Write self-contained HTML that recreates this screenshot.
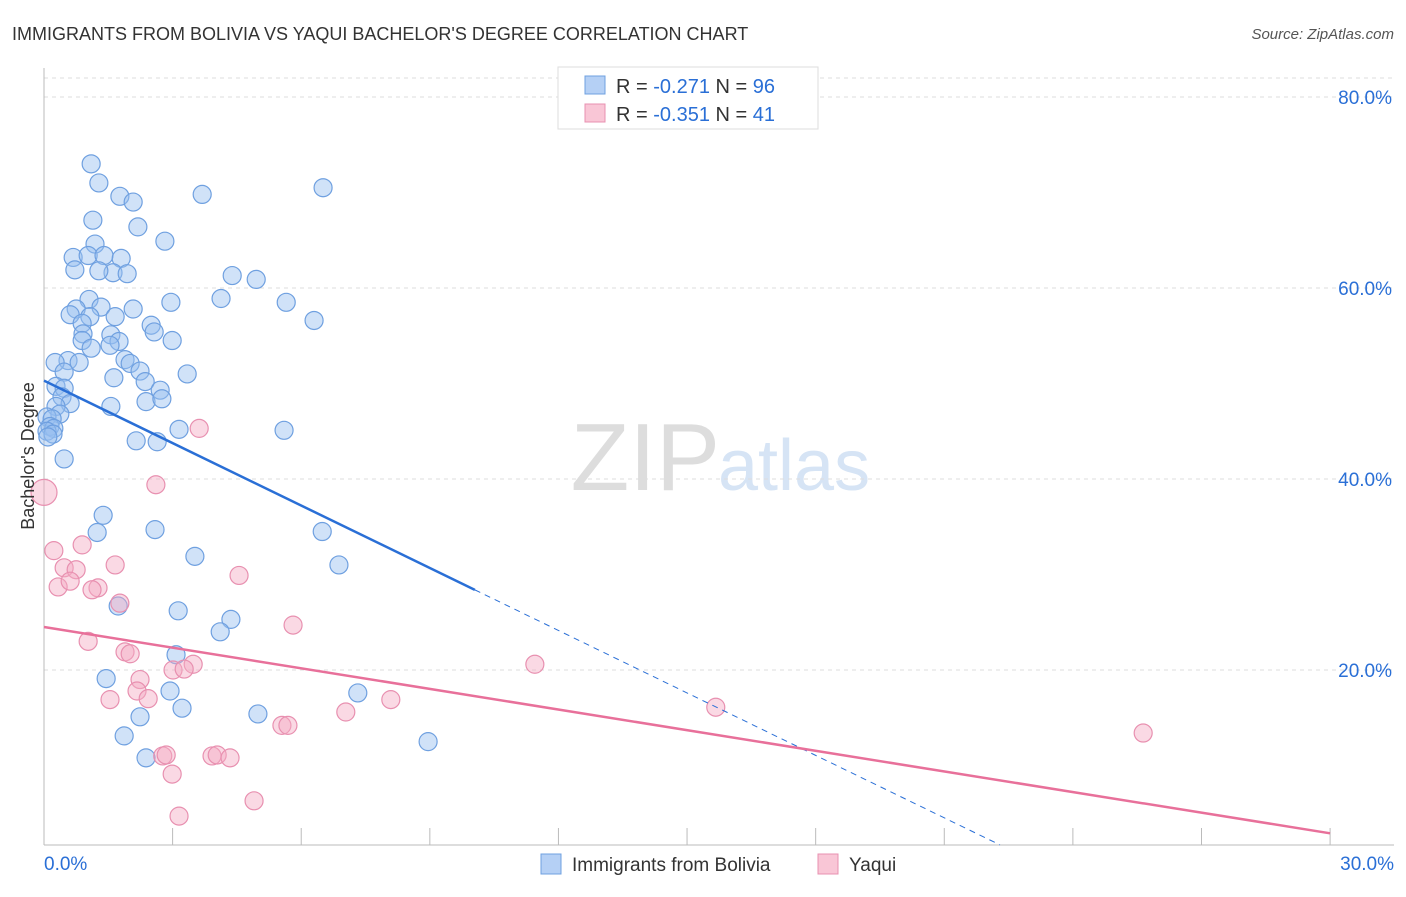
<!DOCTYPE html>
<html><head><meta charset="utf-8"><style>
body{margin:0;background:#fff;font-family:"Liberation Sans",sans-serif}
svg text{font-family:"Liberation Sans",sans-serif}
</style></head><body>
<svg width="1406" height="892">
<text x="12" y="40" font-size="18" fill="#333">IMMIGRANTS FROM BOLIVIA VS YAQUI BACHELOR'S DEGREE CORRELATION CHART</text>
<text x="1394" y="39" font-size="15" fill="#555" font-style="italic" text-anchor="end">Source: ZipAtlas.com</text>
<text x="720" y="490" font-size="96" fill="#ddd" text-anchor="end" font-family="Liberation Serif">ZIP</text>
<text x="718" y="490" font-size="72" fill="#d6e4f5">atlas</text>
<g id="grid"></g>
<g id="axes"></g>
<g id="pts"></g>
<g id="trends"></g>
<text x="34" y="456" font-size="18" fill="#333" text-anchor="middle" transform="rotate(-90 34 456)">Bachelor's Degree</text>
<g>
<rect x="558" y="67" width="260" height="62" fill="#fff" stroke="#ddd"/>
<rect x="585" y="76" width="20" height="18" fill="#b5d0f5" stroke="#6fa0e0"/>
<rect x="585" y="104" width="20" height="18" fill="#f9c6d6" stroke="#e890b0"/>
<text x="616" y="93" font-size="20" fill="#333">R = <tspan fill="#2a6fd6">-0.271</tspan>   N = <tspan fill="#2a6fd6">96</tspan></text>
<text x="616" y="121" font-size="20" fill="#333">R = <tspan fill="#2a6fd6">-0.351</tspan>   N =  <tspan fill="#2a6fd6">41</tspan></text>
</g>
<g>
<rect x="541" y="854" width="20" height="20" fill="#b5d0f5" stroke="#6fa0e0"/>
<text x="572" y="871" font-size="19" fill="#333">Immigrants from Bolivia</text>
<rect x="818" y="854" width="20" height="20" fill="#f9c6d6" stroke="#e890b0"/>
<text x="849" y="871" font-size="19" fill="#333">Yaqui</text>
</g>
</svg>
<script>
const yTicks=[20,40,60,80];
const xTickLabels=["0.0%","30.0%"];
const blueX=[1.1,1.77,1.28,2.08,3.69,6.51,1.14,2.19,2.82,1.19,0.68,1.03,1.4,1.8,0.72,1.61,4.95,1.28,1.94,4.39,1.05,4.13,2.96,5.65,0.75,1.33,2.08,0.61,1.07,1.66,6.3,0.89,2.5,2.57,0.91,1.56,0.89,1.75,2.99,1.1,1.54,0.56,0.82,0.26,1.89,2.01,2.24,3.34,0.47,1.63,2.36,2.71,0.28,0.47,0.42,2.38,2.75,0.61,0.28,1.56,0.37,0.07,0.19,0.14,0.23,0.07,0.21,0.09,3.15,5.6,2.15,0.47,2.64,1.38,1.24,2.59,6.49,3.52,6.88,1.73,3.13,4.36,4.11,3.08,1.45,2.94,7.32,3.22,2.24,4.99,1.87,8.96,2.38];
const blueY=[73.0,69.6,71.0,69.0,69.8,70.5,67.1,66.4,64.9,64.6,63.2,63.4,63.4,63.1,61.9,61.6,60.9,61.8,61.5,61.3,58.8,58.9,58.5,58.5,57.8,58.0,57.8,57.2,57.0,57.0,56.6,56.3,56.1,55.4,55.2,55.1,54.5,54.4,54.5,53.7,54.0,52.4,52.2,52.2,52.5,52.1,51.3,51.0,51.2,50.6,50.2,49.3,49.7,49.5,48.6,48.1,48.4,47.9,47.6,47.6,46.8,46.5,46.3,45.5,45.3,45.0,44.7,44.4,45.2,45.1,44.0,42.1,43.9,36.2,34.4,34.7,34.5,31.9,31.0,26.7,26.2,25.3,24.0,21.6,19.1,17.8,17.6,16.0,15.1,15.4,13.1,12.5,10.8];
const pinkX=[0,0.23,0.89,0.47,0.75,1.66,0.33,0.61,1.26,1.12,1.77,4.55,3.62,2.61,1.03,5.81,1.89,2.01,3.48,11.45,2.24,3.01,3.27,1.54,2.17,2.43,8.09,7.04,15.67,25.64,5.55,5.69,2.77,2.85,3.92,4.04,4.34,2.99,4.9,3.15];
const pinkY=[38.6,32.5,33.1,30.7,30.5,31.0,28.7,29.3,28.6,28.4,27.0,29.9,45.3,39.4,23.0,24.7,21.9,21.7,20.6,20.6,19.0,20.0,20.1,16.9,17.8,17.0,16.9,15.6,16.1,13.4,14.2,14.2,11.0,11.1,11.0,11.1,10.8,9.1,6.3,4.7];
const blueTrend=[50.3,-2.18,10.05,22.3];
const pinkTrend=[24.5,2.9];
const NS="http://www.w3.org/2000/svg";
const sx=v=>44+v*42.87, sy=v=>861-v*9.55;
function mk(t,a,p){const e=document.createElementNS(NS,t);for(const k in a)e.setAttribute(k,a[k]);p.appendChild(e);return e;}
const grid=document.getElementById('grid');
mk('line',{x1:44,x2:1394,y1:78,y2:78,stroke:'#ddd','stroke-dasharray':'4,4'},grid);
yTicks.forEach(v=>{
 const l=mk('line',{x1:44,x2:1394,y1:sy(v),y2:sy(v),stroke:'#ddd','stroke-dasharray':'4,4'},grid);
 
 
 const t=mk('text',{x:1392,y:sy(v)+7,'font-size':19,fill:'#2a6fd6','text-anchor':'end'},grid);
 t.textContent=v.toFixed(1)+'%';
 
 
});
const ax=document.getElementById('axes');
mk('line',{x1:44,x2:44,y1:68,y2:845,stroke:'#bbb'},ax);
mk('line',{x1:44,x2:1394,y1:845,y2:845,stroke:'#bbb'},ax);
for(let i=0;i<=10;i++){mk('line',{x1:sx(i*3),x2:sx(i*3),y1:828,y2:845,stroke:'#bbb'},ax);}
const t0=mk('text',{x:44,y:870,'font-size':19,fill:'#2a6fd6'},ax);t0.textContent=xTickLabels[0];


const t1=mk('text',{x:1394,y:870,'font-size':19,fill:'#2a6fd6','text-anchor':'end'},ax);t1.textContent=xTickLabels[1];


const pts=document.getElementById('pts');
blueX.forEach((x,i)=>{const c=mk('circle',{cx:sx(x),cy:sy(blueY[i]),r:9,fill:'rgba(150,190,240,0.45)',stroke:'#6fa0e0','stroke-width':1.2},pts);
 
 });
pinkX.forEach((x,i)=>{const c=mk('circle',{cx:sx(x),cy:sy(pinkY[i]),r:i==0?13:9,fill:'rgba(245,170,195,0.45)',stroke:'#e890b0','stroke-width':1.2},pts);
 
 });
const tr=document.getElementById('trends');
const bf=x=>blueTrend[0]+blueTrend[1]*x;
const b1=mk('line',{x1:sx(0),y1:sy(bf(0)),x2:sx(blueTrend[2]),y2:sy(bf(blueTrend[2])),stroke:'#2a6fd6','stroke-width':2.5},tr);


const b2=mk('line',{x1:sx(blueTrend[2]),y1:sy(bf(blueTrend[2])),x2:sx(blueTrend[3]),y2:sy(bf(blueTrend[3])),stroke:'#2a6fd6','stroke-width':1,'stroke-dasharray':'6,5'},tr);


const p1=mk('line',{x1:sx(0),y1:sy(pinkTrend[0]),x2:sx(30),y2:sy(pinkTrend[1]),stroke:'#e8709a','stroke-width':2.5},tr);


</script>
</body></html>
